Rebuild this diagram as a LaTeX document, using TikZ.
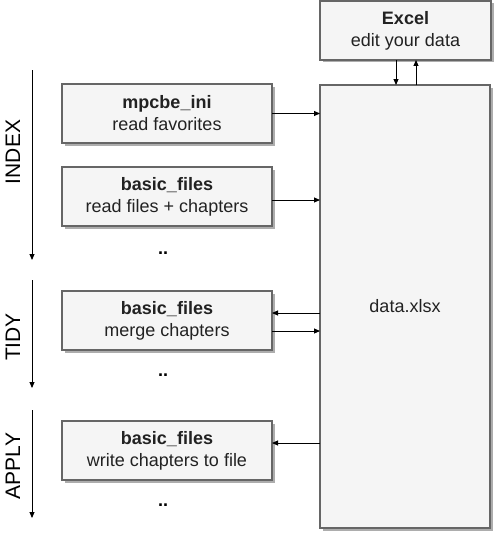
\documentclass[tikz,border=0pt]{standalone}
\usepackage{fontspec}
\setmainfont{Liberation Sans}
\usepackage{xcolor}
\usepackage{tikz}
\usetikzlibrary{positioning, arrows.meta, shadows, calc}

\definecolor{boxfill}{HTML}{F5F5F5}
\definecolor{boxline}{HTML}{666666}
\definecolor{boxtext}{HTML}{222222}

\begin{document}
\begin{tikzpicture}[
  x=1pt, y=-1pt,
  font=\fontsize{18}{22}\selectfont,
  box/.style={draw=boxline, fill=boxfill, text=boxtext, line width=1.1pt, align=center, inner sep=2pt, outer sep=0pt,
    drop shadow={shadow xshift=2.5pt, shadow yshift=-2.5pt, fill=black!40, opacity=0.8}},
  stepbox/.style={box, minimum width=210pt, minimum height=59pt},
  phase/.style={rotate=90, font=\fontsize{21}{25}\selectfont},
  dots/.style={font=\fontsize{18}{22}\selectfont\bfseries},
  arr/.style={-{Triangle[length=6pt, width=5pt]}, line width=0.9pt}
]
\useasboundingbox (0,0) rectangle (496,535);

% Data file + Excel
\node[box, minimum width=170pt, minimum height=443pt] (data) at (405,306.5) {data.xlsx};
\node[box, minimum width=171pt, minimum height=59pt] (excel) at (405.5,30.5) {\textbf{Excel}\\edit your data};

% Steps
\node[stepbox] (ini) at (167,113.5) {\textbf{mpcbe\_ini}\\read favorites};
\node[stepbox] (read) at (167,196.5) {\textbf{basic\_files}\\read files + chapters};
\node[dots] (dotsA) at (163,253) {..};
\node[stepbox] (merge) at (167,320.5) {\textbf{basic\_files}\\merge chapters};
\node[dots] (dotsB) at (163,375) {..};
\node[stepbox] (write) at (167,450.5) {\textbf{basic\_files}\\write chapters to file};
\node[dots] (dotsC) at (163,505) {..};

% Phases
\coordinate (indexTop) at (32,70);
\coordinate (indexEnd) at (32,260);
\coordinate (tidyTop) at (32,280);
\coordinate (tidyEnd) at (32,388);
\coordinate (applyTop) at (32,410);
\coordinate (applyEnd) at (32,518);
\node[phase] (index) at (13,152) {INDEX};
\node[phase] (tidy) at (13,337) {TIDY};
\node[phase] (apply) at (13,466) {APPLY};
\draw[arr] (indexTop) -- (indexEnd);
\draw[arr] (tidyTop) -- (tidyEnd);
\draw[arr] (applyTop) -- (applyEnd);

% Excel links
\draw[arr] ([xshift=-9.5pt]excel.south) -- ([xshift=-9.5pt]excel.south |- data.north);
\draw[arr] ([xshift=10.5pt]excel.south |- data.north) -- ([xshift=10.5pt]excel.south);

% Step links
\draw[arr] (ini.east) -- (ini.east -| data.west);
\draw[arr] ([yshift=-3.5pt]read.east) -- ([yshift=-3.5pt]read.east -| data.west);
\draw[arr] ([yshift=7.5pt]merge.east -| data.west) -- ([yshift=7.5pt]merge.east);
\draw[arr] ([yshift=-10.5pt]merge.east) -- ([yshift=-10.5pt]merge.east -| data.west);
\draw[arr] ([yshift=7.5pt]write.east -| data.west) -- ([yshift=7.5pt]write.east);

\end{tikzpicture}
\end{document}
